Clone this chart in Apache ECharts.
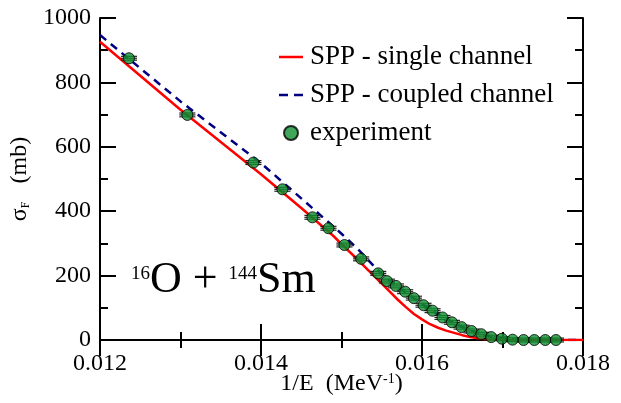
<!DOCTYPE html>
<html><head><meta charset="utf-8">
<script src="https://cdn.jsdelivr.net/npm/echarts@6/dist/echarts.min.js"></script>
<style>html,body{margin:0;padding:0;background:#fff}#c{width:621px;height:403px}</style>
</head><body><div id="c"></div>
<script>
// experimental data: 1/E (MeV^-1), sigma_F (mb), x error, y error
const expX = [0.01236, 0.013085, 0.013906, 0.014266, 0.014639, 0.014838, 0.015037, 0.015244, 0.015456,
  0.015564, 0.015676, 0.015791, 0.015899, 0.016019, 0.016131, 0.016255, 0.016372, 0.016491, 0.016615,
  0.016736, 0.01686, 0.016993, 0.017125, 0.017262, 0.017395, 0.017531, 0.017664];
const expY = [875, 699, 551, 468, 381, 347, 295, 252, 207, 183, 168, 150, 130, 108, 91, 70, 55, 40, 28,
  18, 9, 4, 1, 0, 0, 0, 0];
const expXErr = [0.0001, 0.0001, 0.0001, 0.0001, 0.0001, 0.0001, 0.0001, 0.0001, 0.0001, 0.0001, 0.0001,
  0.0001, 0.0001, 0.0001, 0.0001, 0.0001, 0.0001, 0.0001, 0.0001, 0.0001, 0.0001, 0.0001, 0.0001,
  0.0001, 0.0001, 0.0001, 0.0001];
const expYErr = [6, 6, 6, 6, 6, 6, 6, 6, 6, 6, 6, 6, 6, 6, 6, 6, 6, 6, 6, 6, 6, 6, 6, 6, 6, 6, 6];

// SPP - single channel
const singleX = [0.012, 0.013, 0.014, 0.0145, 0.0149, 0.015, 0.0152, 0.0153, 0.0154, 0.0155, 0.0156,
  0.0157, 0.0158, 0.0159, 0.016, 0.0161, 0.0162, 0.0163, 0.0164, 0.0165, 0.0166, 0.0167, 0.0168, 0.0169,
  0.017, 0.018];
const singleY = [926, 715, 515, 410, 323, 298, 250, 225, 200, 175, 150, 125, 102, 81, 64, 49, 38, 29,
  22, 15, 9, 5, 2, 1, 0, 0];

// SPP - coupled channel
const coupledX = [0.012, 0.013, 0.014, 0.0145, 0.015, 0.0152, 0.0153, 0.0154, 0.0155, 0.0156, 0.0157,
  0.0158, 0.0159, 0.016, 0.0161, 0.0162, 0.0163, 0.0164, 0.0165, 0.0166, 0.0167, 0.0168, 0.0169, 0.017,
  0.0171, 0.0172, 0.0174, 0.018];
const coupledY = [947, 741, 549, 440, 330, 283, 257, 230, 206, 184, 164, 147, 130, 112, 95, 80, 65, 52,
  40, 30, 21, 14, 8, 5, 2, 1, 0, 0];

const seriesNames = ['SPP - single channel', 'SPP - coupled channel', 'experiment'];
const xTickLabels = ['0.012', '0.014', '0.016', '0.018'];
const yTickLabels = ['0', '200', '400', '600', '800', '1000'];

const FONT = 'Liberation Serif';
const zip = (a, b) => a.map((v, i) => [v, b[i]]);

const chart = echarts.init(document.getElementById('c'), null, {renderer: 'canvas'});

const axisCommon = {
  axisLine: {lineStyle: {color: '#000', width: 2}},
  axisTick: {inside: true, length: 16, lineStyle: {color: '#000', width: 2}},
  minorTick: {show: true, splitNumber: 2, length: 8, lineStyle: {color: '#000', width: 2}},
  splitLine: {show: false},
  minorSplitLine: {show: false}
};

chart.setOption({
  animation: false,
  backgroundColor: '#fff',
  grid: {left: 100, right: 38, top: 18, bottom: 63, outerBoundsMode: 'none', containLabel: false},
  legend: {
    data: [
      {name: seriesNames[0], icon: 'path://M0,0h24v2.5h-24z', itemStyle: {color: '#ff0000'}},
      {name: seriesNames[1], icon: 'path://M0,0h9v2.5h-9z M15,0h9v2.5h-9z', itemStyle: {color: '#000080'}},
      {name: seriesNames[2], icon: 'circle'}
    ],
    orient: 'vertical',
    left: 274,
    top: 38,
    itemWidth: 24,
    itemHeight: 14,
    itemGap: 10,
    symbolKeepAspect: true,
    textStyle: {fontFamily: FONT, fontSize: 27, color: '#000', lineHeight: 28, padding: [0, 0, 0, 2]}
  },
  xAxis: [
    Object.assign({}, axisCommon, {
      type: 'value', min: 0.012, max: 0.018, interval: 0.002,
      axisLabel: {fontFamily: FONT, fontSize: 24, color: '#000', margin: 12,
        formatter: v => { const i = Math.round((v - 0.012) / 0.002); return xTickLabels[i] || ''; }},
      name: '1/E  (MeV{sup|-1})',
      nameLocation: 'middle',
      nameGap: 32,
      nameMoveOverlap: false,
      nameTextStyle: {fontFamily: FONT, fontSize: 24, color: '#000',
        rich: {sup: {fontFamily: FONT, fontSize: 14, color: '#000', verticalAlign: 'top', lineHeight: 24, padding: [0, 0, 10, 0]}}}
    }),
    Object.assign({}, axisCommon, {
      type: 'value', min: 0.012, max: 0.018, interval: 0.002, position: 'top',
      axisLabel: {show: false}
    })
  ],
  yAxis: [
    Object.assign({}, axisCommon, {
      type: 'value', min: 0, max: 1000, interval: 200,
      axisLabel: {fontFamily: FONT, fontSize: 24, color: '#000', margin: 9,
        formatter: v => yTickLabels[Math.round(v / 200)] || ''},
      name: 'σ{sub|F}   (mb)',
      nameLocation: 'middle',
      nameGap: 68,
      nameTextStyle: {fontFamily: FONT, fontSize: 24, color: '#000',
        rich: {sub: {fontFamily: FONT, fontSize: 12, color: '#000', verticalAlign: 'bottom', lineHeight: 24}}}
    }),
    Object.assign({}, axisCommon, {
      type: 'value', min: 0, max: 1000, interval: 200, position: 'right',
      axisLabel: {show: false}
    })
  ],
  graphic: [{
    type: 'text',
    left: 131,
    top: 258,
    style: {
      text: '{sup|16}{big|O + }{sup|144}{big|Sm}',
      fill: '#000',
      rich: {
        big: {fontFamily: FONT, fontSize: 44, fill: '#000', lineHeight: 44},
        sup: {fontFamily: FONT, fontSize: 19, fill: '#000', lineHeight: 44, verticalAlign: 'top', padding: [7, 0, 0, 0]}
      }
    }
  }],
  series: [
    {
      name: seriesNames[1], type: 'line', data: zip(coupledX, coupledY), symbol: 'none',
      lineStyle: {color: '#000080', width: 2.5, type: [8, 6]}, itemStyle: {color: '#000080'}, z: 2
    },
    {
      name: seriesNames[0], type: 'line', data: zip(singleX, singleY), symbol: 'none',
      lineStyle: {color: '#ff0000', width: 2.5}, itemStyle: {color: '#ff0000'}, z: 3
    },
    {
      name: 'errors', type: 'custom', z: 4,
      data: expX.map((x, i) => [x, expY[i], expXErr[i], expYErr[i]]),
      renderItem: (params, api) => {
        const x = api.value(0), y = api.value(1), ex = api.value(2), ey = api.value(3);
        const l = api.coord([x - ex, y]), r = api.coord([x + ex, y]);
        const t = api.coord([x, y + ey]), b = api.coord([x, y - ey]);
        const st = {stroke: '#222', lineWidth: 1.2};
        return {type: 'group', children: [
          {type: 'line', shape: {x1: l[0], y1: l[1], x2: r[0], y2: r[1]}, style: st},
          {type: 'line', shape: {x1: l[0], y1: t[1], x2: r[0], y2: t[1]}, style: st},
          {type: 'line', shape: {x1: l[0], y1: b[1], x2: r[0], y2: b[1]}, style: st}
        ]};
      }
    },
    {
      name: seriesNames[2], type: 'scatter', data: zip(expX, expY), symbol: 'circle', symbolSize: 11,
      itemStyle: {color: '#109030', borderColor: '#000', borderWidth: 1}, z: 5
    }
  ]
});
</script>
</body></html>
